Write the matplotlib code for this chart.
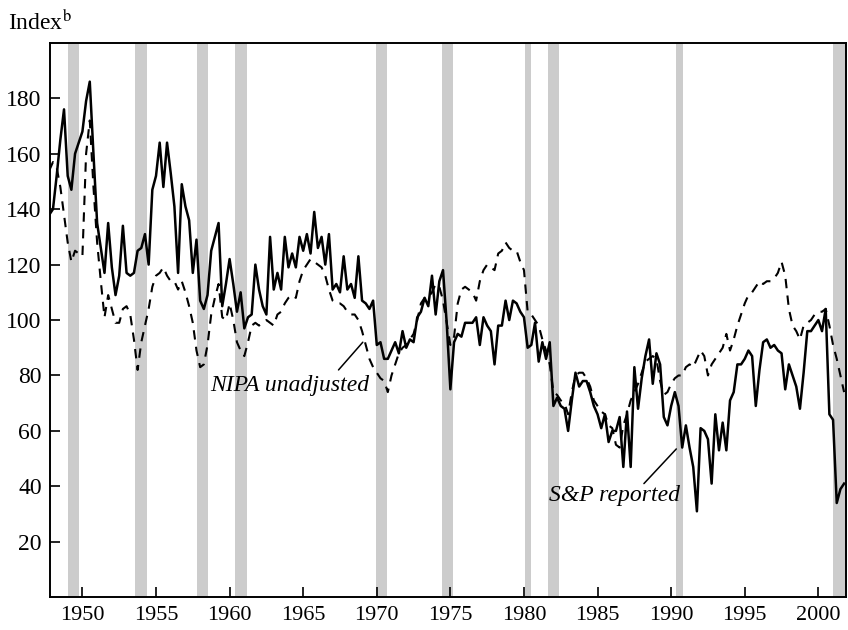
import numpy as np
import matplotlib
matplotlib.use("Agg")
import matplotlib.pyplot as plt

plt.rcParams['font.family'] = ['Liberation Serif', 'DejaVu Serif']
plt.rcParams['mathtext.fontset'] = 'stix'

# quarterly data, first point 1947 Q4
start_year = 1947.75

# S&P reported earnings index (solid)
sp_reported = [
    138,
    140, 152, 165, 176,   # 1948
    152, 147, 160, 164,   # 1949
    168, 179, 186, 160,   # 1950
    135, 126, 117, 135,   # 1951
    119, 109, 116, 134,   # 1952
    117, 116, 117, 125,   # 1953
    126, 131, 120, 147,   # 1954
    152, 164, 148, 164,   # 1955
    153, 141, 117, 149,   # 1956
    141, 136, 117, 129,   # 1957
    107, 104, 109, 125,   # 1958
    130, 135, 105, 113,   # 1959
    122, 113, 103, 110,   # 1960
    97, 101, 102, 120,    # 1961
    111, 105, 102, 130,   # 1962
    111, 117, 111, 130,   # 1963
    119, 124, 119, 130,   # 1964
    125, 131, 124, 139,   # 1965
    126, 130, 120, 131,   # 1966
    111, 113, 110, 123,   # 1967
    111, 113, 108, 123,   # 1968
    107, 106, 104, 107,   # 1969
    91, 92, 86, 86,       # 1970
    89, 92, 88, 96,       # 1971
    90, 93, 92, 101,      # 1972
    103, 108, 105, 116,   # 1973
    102, 114, 118, 99,    # 1974
    75, 92, 95, 94,       # 1975
    99, 99, 99, 101,      # 1976
    91, 101, 98, 96,      # 1977
    84, 98, 98, 107,      # 1978
    100, 107, 106, 103,   # 1979
    101, 90, 91, 99,      # 1980
    85, 92, 86, 92,       # 1981
    69, 72, 69, 68,       # 1982
    60, 71, 81, 76,       # 1983
    78, 78, 74, 69,       # 1984
    66, 61, 66, 56,       # 1985
    60, 60, 65, 47,       # 1986
    67, 47, 83, 68,       # 1987
    79, 87, 93, 77,       # 1988
    88, 84, 65, 62,       # 1989
    69, 74, 69, 54,       # 1990
    62, 54, 47, 31,       # 1991
    61, 60, 57, 41,       # 1992
    66, 53, 63, 53,       # 1993
    71, 74, 84, 84,       # 1994
    86, 89, 87, 69,       # 1995
    82, 92, 93, 90,       # 1996
    91, 89, 88, 75,       # 1997
    84, 80, 76, 68,       # 1998
    81, 96, 96, 98,       # 1999
    100, 96, 104, 66,     # 2000
    64, 34, 39, 41,       # 2001
]

# NIPA unadjusted profits index (dashed)
nipa_unadjusted = [
    154,
    157, 155, 148, 138,   # 1948
    128, 121, 125, 124,   # 1949
    123, 160, 172, 148,   # 1950
    128, 114, 101, 109,   # 1951
    104, 99, 99, 104,     # 1952
    105, 102, 93, 82,     # 1953
    92, 98, 104, 112,     # 1954
    116, 117, 119, 116,   # 1955
    114, 114, 111, 114,   # 1956
    110, 105, 99, 89,     # 1957
    83, 84, 91, 102,      # 1958
    108, 113, 101, 100,   # 1959
    106, 100, 92, 89,     # 1960
    87, 92, 98, 99,       # 1961
    98, 99, 100, 99,      # 1962
    98, 102, 103, 106,    # 1963
    108, 109, 108, 114,   # 1964
    118, 120, 122, 121,   # 1965
    120, 119, 116, 111,   # 1966
    107, 106, 106, 105,   # 1967
    103, 102, 102, 100,   # 1968
    96, 91, 86, 83,       # 1969
    81, 79, 78, 74,       # 1970
    80, 84, 88, 90,       # 1971
    91, 93, 95, 100,      # 1972
    106, 108, 108, 110,   # 1973
    113, 112, 107, 99,    # 1974
    91, 94, 106, 111,     # 1975
    112, 111, 110, 107,   # 1976
    114, 118, 120, 119,   # 1977
    118, 124, 125, 128,   # 1978
    126, 125, 125, 121,   # 1979
    118, 103, 102, 100,   # 1980
    98, 93, 89, 84,       # 1981
    74, 73, 71, 70,       # 1982
    66, 74, 80, 81,       # 1983
    81, 79, 76, 71,       # 1984
    69, 67, 66, 62,       # 1985
    61, 55, 54, 62,       # 1986
    66, 71, 74, 77,       # 1987
    81, 85, 86, 87,       # 1988
    86, 78, 73, 74,       # 1989
    77, 79, 80, 80,       # 1990
    83, 84, 83, 86,       # 1991
    89, 87, 80, 84,       # 1992
    86, 88, 90, 95,       # 1993
    89, 93, 98, 102,      # 1994
    106, 109, 110, 112,   # 1995
    114, 113, 114, 114,   # 1996
    115, 117, 121, 116,   # 1997
    104, 98, 96, 93,      # 1998
    98, 99, 100, 102,     # 1999
    103, 103, 104, 98,    # 2000
    91, 86, 80, 74,       # 2001
]

# recession periods (shaded)
recession_start = [1949.0, 1953.6, 1957.8, 1960.4, 1969.95, 1974.4, 1980.05, 1981.6, 1990.35, 2001.0]
recession_end = [1949.75, 1954.4, 1958.55, 1961.2, 1970.7, 1975.15, 1980.5, 1982.35, 1990.8, 2001.9]

year_ticks = [1950, 1955, 1960, 1965, 1970, 1975, 1980, 1985, 1990, 1995, 2000]
value_ticks = [20, 40, 60, 80, 100, 120, 140, 160, 180]

years = start_year + 0.25 * np.arange(len(sp_reported))

fig = plt.figure(figsize=(8.48, 6.30), dpi=100)
ax = fig.add_axes([0.059, 0.052, 0.939, 0.880])

for s, e in zip(recession_start, recession_end):
    ax.axvspan(s, e, facecolor='#cccccc', edgecolor='none', zorder=0)

ax.plot(years, nipa_unadjusted, color='black', lw=1.5, linestyle=(0, (4.5, 3.5)), zorder=2)
ax.plot(years, sp_reported, color='black', lw=1.8, zorder=3)

ax.set_xlim(1947.8, 2001.9)
ax.set_ylim(0, 200)
ax.set_xticks(year_ticks)
ax.set_yticks(value_ticks)
ax.tick_params(direction='in', length=7, width=1.2, top=False, right=False)
ax.tick_params(axis='x', labelsize=16, pad=6)
ax.tick_params(axis='y', labelsize=17, pad=6)
for sp in ax.spines.values():
    sp.set_linewidth(1.4)

# labels with leader lines
ax.text(1958.7, 76.5, 'NIPA unadjusted', style='italic', fontsize=17,
        ha='left', va='center')
ax.annotate('', xy=(1969.05, 92), xytext=(1967.4, 82),
            arrowprops=dict(arrowstyle='-', lw=1.1, shrinkA=0, shrinkB=0))
ax.text(1981.7, 36.8, 'S&P reported', style='italic', fontsize=17,
        ha='left', va='center')
ax.annotate('', xy=(1990.35, 53.5), xytext=(1988.15, 41),
            arrowprops=dict(arrowstyle='-', lw=1.1, shrinkA=0, shrinkB=0))

fig.text(0.009, 0.965, 'Index$^{\\mathrm{b}}$', fontsize=17, ha='left', va='center')

fig.savefig('out.png', dpi=100)
